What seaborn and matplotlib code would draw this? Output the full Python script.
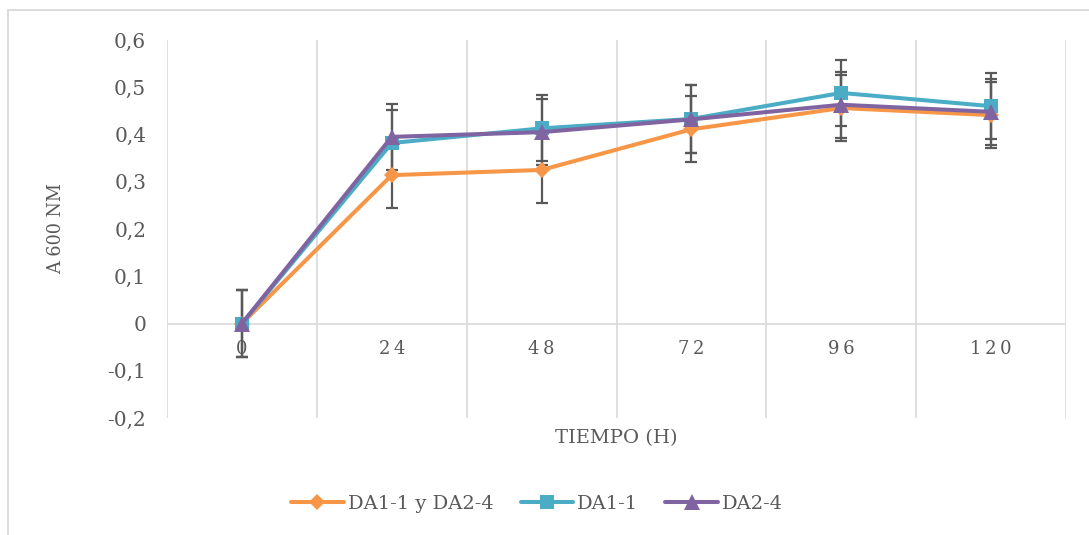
import numpy as np
import pandas as pd
import seaborn as sns
import matplotlib.pyplot as plt
from matplotlib.lines import Line2D
from matplotlib.ticker import FuncFormatter, FixedLocator

# Sampling times (hours) and measured absorbance at 600 nm
tiempos = ["0", "24", "48", "72", "96", "120"]
da_mix = [0.0, 0.314, 0.325, 0.411, 0.456, 0.441]
da_1_1 = [0.0, 0.382, 0.413, 0.433, 0.488, 0.460]
da_2_4 = [0.0, 0.395, 0.405, 0.432, 0.463, 0.448]
err_mix = [0.07, 0.07, 0.07, 0.07, 0.07, 0.07]
err_1_1 = [0.07, 0.07, 0.07, 0.072, 0.07, 0.07]
err_2_4 = [0.07, 0.07, 0.07, 0.072, 0.07, 0.07]
series = ["DA1-1 y DA2-4", "DA1-1", "DA2-4"]

colors = {"DA1-1 y DA2-4": "#F79646", "DA1-1": "#4BACC6", "DA2-4": "#8064A2"}
markers = {"DA1-1 y DA2-4": "D", "DA1-1": "s", "DA2-4": "^"}
sizes = {"DA1-1 y DA2-4": 8.5, "DA1-1": 10, "DA2-4": 11}

pos = np.arange(len(tiempos))
df = pd.concat([
    pd.DataFrame({"pos": pos, "valor": vals, "err": errs, "serie": name})
    for name, vals, errs in zip(series, [da_mix, da_1_1, da_2_4], [err_mix, err_1_1, err_2_4])
], ignore_index=True)

sns.set_theme(style="white")
plt.rcParams["font.family"] = ["DejaVu Serif"]
GRAY = "#595959"
GRID = "#D9D9D9"

W, H = 1089, 535
fig = plt.figure(figsize=(W / 100, H / 100), dpi=100)
ax = fig.add_axes([167 / W, 1 - 418 / H, (1066 - 167) / W, (418 - 40) / H])

# error bars underneath the lines
for name in series:
    d = df[df["serie"] == name]
    ax.errorbar(d["pos"], d["valor"], yerr=d["err"], fmt="none", ecolor=GRAY,
                elinewidth=1.6, capsize=4.5, capthick=1.6, zorder=2)

for name in series:
    d = df[df["serie"] == name]
    sns.lineplot(data=d, x="pos", y="valor", color=colors[name], marker=markers[name],
                 markersize=sizes[name], markeredgewidth=0, linewidth=2.9,
                 label=name, ax=ax, zorder=3, legend=False)

ax.set_xlim(-0.5, len(tiempos) - 0.5)
ax.set_ylim(-0.2, 0.6)
ax.set_yticks(np.arange(-0.2, 0.61, 0.1))
ax.yaxis.set_major_formatter(FuncFormatter(lambda v, p: f"{v:.1f}".replace(".", ",").replace("-0,0", "0").replace("0,0", "0")))
ax.set_xticks(pos)
ax.set_xticklabels(["\u2009".join(t) for t in tiempos])
ax.xaxis.set_minor_locator(FixedLocator(np.arange(-0.5, len(tiempos), 1.0)))
ax.grid(which="minor", axis="x", color=GRID, linewidth=1.2)
ax.grid(which="major", axis="both", visible=False)
ax.axhline(0, color=GRID, linewidth=1.2, zorder=1)

for s in ["top", "right", "left"]:
    ax.spines[s].set_visible(False)
ax.spines["bottom"].set_position(("data", 0))
ax.spines["bottom"].set_visible(False)
ax.tick_params(axis="x", which="both", length=0, pad=12, labelsize=13, labelcolor=GRAY)
ax.tick_params(axis="y", length=0, pad=15, labelsize=14.5, labelcolor=GRAY)

ax.set_xlabel("")
ax.set_ylabel("")
fig.text(616 / W, 1 - 438 / H, "TIEMPO (H)", ha="center", va="center", fontsize=14, color=GRAY)
fig.text(56 / W, 1 - 229 / H, "A 600 NM", ha="center", va="center", rotation=90, fontsize=12.7, color=GRAY)

handles = [Line2D([], [], color=colors[n], marker=markers[n], markersize=sizes[n],
                  markeredgewidth=0, linewidth=2.9) for n in series]
fig.legend(handles, series, loc="center", bbox_to_anchor=(537 / W, 1 - 504 / H), ncol=3,
           frameon=False, fontsize=14, labelcolor=GRAY, handlelength=2.7,
           handletextpad=0.2, columnspacing=1.4)

# outer chart frame
fig.add_artist(Line2D([8 / W, 8 / W], [0, 1 - 10 / H], color=GRID, linewidth=1.3))
fig.add_artist(Line2D([8 / W, 1], [1 - 10 / H, 1 - 10 / H], color=GRID, linewidth=1.3))

fig.savefig("out.png", dpi=100, facecolor="white")
